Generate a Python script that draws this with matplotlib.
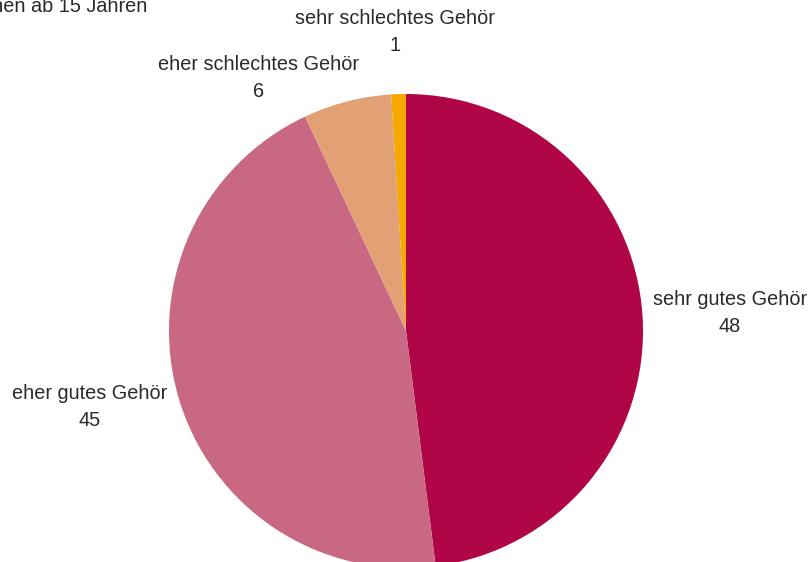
import matplotlib
matplotlib.use("Agg")
import matplotlib.pyplot as plt

categories = ["sehr gutes Gehör", "eher gutes Gehör", "eher schlechtes Gehör", "sehr schlechtes Gehör"]
values = [48, 45, 6, 1]
colors = ["#B00547", "#C96882", "#E2A075", "#F5A800"]
subtitle = "Personen ab 15 Jahren"

# label anchor points (figure pixels, y measured from top) for each wedge
label_pos = [(730, 313), (90, 407), (259, 78), (395, 32)]

W, H = 810, 562
fig = plt.figure(figsize=(W / 100, H / 100), dpi=100)
ax = fig.add_axes([0, 0, 1, 1])

cx, cy, r = 406, H - 331, 237
ax.pie(values, colors=colors, startangle=90, counterclock=False,
       center=(cx, cy), radius=r, frame=True,
       wedgeprops=dict(linewidth=0))
ax.set_xlim(0, W)
ax.set_ylim(0, H)
ax.set_aspect("equal")
ax.axis("off")

font = ["Liberation Sans", "DejaVu Sans"]
txt = dict(fontsize=14.3, color="#2a2a2a", family=font)
for cat, val, (px, py) in zip(categories, values, label_pos):
    ax.text(px, H - py, f"{cat}\n{val}", ha="center", va="center",
            linespacing=1.48, **txt)

ax.text(147, H - 7, subtitle, ha="right", va="center", **txt)

fig.savefig("out.png", dpi=100)
